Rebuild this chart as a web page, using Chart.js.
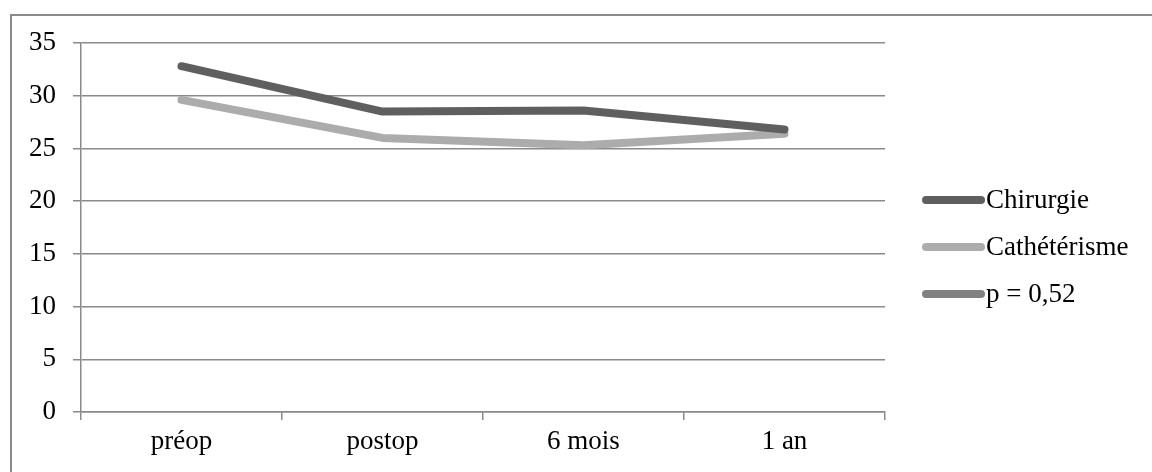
<!DOCTYPE html>
<html>
<head>
<meta charset="utf-8">
<script src="https://cdn.jsdelivr.net/npm/chart.js@4/dist/chart.umd.min.js"></script>
<style>
  html, body { margin: 0; padding: 0; background: #fff; overflow: hidden; }
  #frame { position: absolute; left: 10px; top: 14px; width: 1300px; height: 600px;
           border: 2px solid #8a8a8a; box-sizing: border-box; }
  #wrap { position: absolute; left: 0; top: 0; width: 1152px; height: 472px; }
</style>
</head>
<body>
<div id="frame"></div>
<div id="wrap"><canvas id="c" width="1152" height="472"></canvas></div>
<script>
// Périodes de suivi
const categories = ['préop', 'postop', '6 mois', '1 an'];
// Valeurs moyennes par groupe
const chirurgie = [32.8, 28.5, 28.6, 26.8];
const catheterisme = [29.6, 26.0, 25.3, 26.4];
const pValue = [];
const seriesNames = ['Chirurgie', 'Cathétérisme', 'p = 0,52'];
const seriesColors = ['#5f5f5f', '#acacac', '#808080'];
// Graduations de l'axe vertical
const yTicks = [0, 5, 10, 15, 20, 25, 30, 35];

const FONT = "'Liberation Serif', 'Times New Roman', serif";
const GRID = '#8a8a8a';

// Légende dessinée à droite de la zone du graphique
const sideLegend = {
  id: 'sideLegend',
  afterDraw(chart) {
    const ctx = chart.ctx;
    const area = chart.chartArea;
    const x0 = area.left + area.width + 41;
    const y0 = 200;
    ctx.save();
    chart.data.datasets.forEach((ds, i) => {
      const y = y0 + i * 47;
      ctx.strokeStyle = ds.borderColor;
      ctx.lineWidth = 8;
      ctx.lineCap = 'round';
      ctx.beginPath();
      ctx.moveTo(x0, y);
      ctx.lineTo(x0 + 55, y);
      ctx.stroke();
      ctx.fillStyle = '#000';
      ctx.font = '27px ' + FONT;
      ctx.textAlign = 'left';
      ctx.textBaseline = 'middle';
      ctx.fillText(ds.label, x0 + 60, y + 1);
    });
    ctx.restore();
  }
};

const values = [chirurgie, catheterisme, pValue];
new Chart(document.getElementById('c'), {
  type: 'line',
  data: {
    labels: categories,
    datasets: values.map((v, i) => ({
      label: seriesNames[i],
      data: v,
      borderColor: seriesColors[i],
      backgroundColor: seriesColors[i],
      borderWidth: 8,
      borderCapStyle: 'round',
      borderJoinStyle: 'round',
      pointRadius: 0,
      pointHoverRadius: 0,
      tension: 0,
      fill: false
    }))
  },
  options: {
    responsive: false,
    animation: false,
    events: [],
    layout: { padding: { top: 43, right: 267, left: 0, bottom: 0 } },
    plugins: { legend: { display: false }, tooltip: { enabled: false } },
    scales: {
      x: {
        offset: true,
        grid: { offset: true, drawOnChartArea: false, drawTicks: true, tickLength: 8,
                color: GRID, lineWidth: 1.5 },
        border: { display: true, color: GRID, width: 1.5 },
        ticks: { color: '#000', font: { family: FONT, size: 27 }, padding: 6, maxRotation: 0 },
        afterFit(s) { s.height = 60; }
      },
      y: {
        min: 0,
        max: 35,
        afterBuildTicks(s) { s.ticks = yTicks.map(v => ({ value: v })); },
        grid: { color: GRID, lineWidth: 1.5, tickLength: 8 },
        border: { display: true, color: GRID, width: 1.5 },
        ticks: { color: '#000', font: { family: FONT, size: 27 }, padding: 17 },
        afterFit(s) { s.width = 81; }
      }
    }
  },
  plugins: [sideLegend]
});
</script>
</body>
</html>
